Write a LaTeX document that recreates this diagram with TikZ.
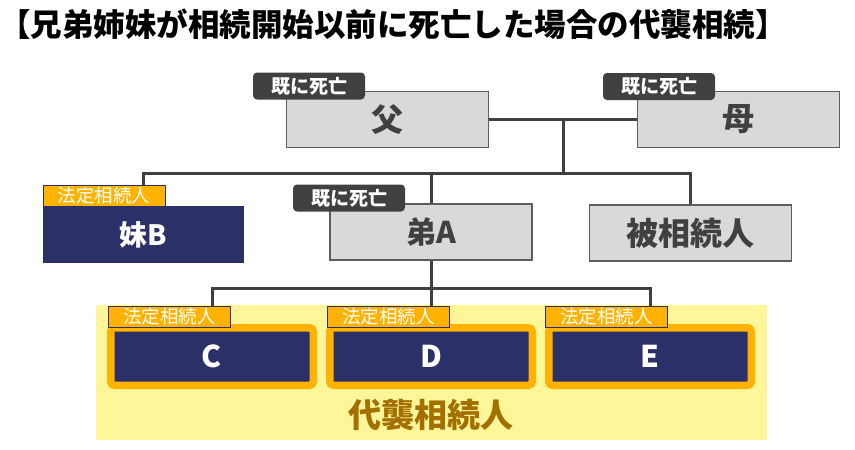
\documentclass[tikz,border=0pt]{standalone}
\usepackage{fontspec}
\setmainfont{Noto Sans CJK JP}
\usetikzlibrary{calc}
\definecolor{boxgray}{HTML}{D9D9D9}
\definecolor{linegray}{HTML}{404040}
\definecolor{navy}{HTML}{2B3168}
\definecolor{gold}{HTML}{FFB300}
\definecolor{paleyellow}{HTML}{FFF599}
\definecolor{darkgold}{HTML}{A36F00}
\tikzset{
	person/.style={draw=linegray!85, line width=1.5pt, fill=boxgray, minimum width=202pt, minimum height=56pt, inner sep=0pt, text=linegray, font=\fontsize{32}{36}\selectfont\bfseries},
	heir/.style={fill=navy, minimum width=201pt, minimum height=57pt, inner sep=0pt, text=white, font=\fontsize{28}{32}\selectfont\bfseries},
	substitute/.style={heir, draw=gold, line width=7.5pt, rounded corners=3.75pt, minimum width=202.5pt, minimum height=57.5pt, font=\fontsize{30}{34}\selectfont\bfseries},
	deadtag/.style={fill=linegray, rounded corners=4pt, minimum width=112pt, minimum height=27pt, inner sep=0pt, text=white, font=\fontsize{19}{21}\selectfont\bfseries},
	legaltag/.style={fill=gold, draw=navy, line width=1pt, minimum width=122pt, minimum height=21pt, inner sep=0pt, text=white, font=\fontsize{18.5}{20}\selectfont},
	link/.style={draw=linegray, line width=3pt}
}
\begin{document}
\begin{tikzpicture}[x=1pt,y=-1pt]
	\useasboundingbox (0,0) rectangle (855,450);
	\fill[paleyellow] (96,305) rectangle (767,440);
	
	\node[font=\fontsize{31.5}{34}\selectfont\bfseries] (title) at (393,24) {【兄弟姉妹が相続開始以前に死亡した場合の代襲相続】};
	
	\node[person] (father) at (387.5,119.5) {父};
	\node[person] (mother) at (738.5,119.5) {母};
	\node[heir] (sister) at (143.5,234.5) {妹B};
	\node[person, font=\fontsize{30}{34}\selectfont\bfseries] (brother) at (431,232) {弟A};
	\node[person] (deceased) at (690.5,233) {被相続人};
	
	\node[deadtag] (fathertag) at (309,86) {既に死亡};
	\node[deadtag] (mothertag) at (659,86.5) {既に死亡};
	\node[deadtag] (brothertag) at (349,198) {既に死亡};
	\node[legaltag] (sistertag) at (104,195.5) {法定相続人};
	
	\node[substitute] (c) at (212,356.5) {C};
	\node[substitute] (d) at (431,356.5) {D};
	\node[substitute] (e) at (650,356.5) {E};
	\node[legaltag] (ctag) at (169.5,316.5) {法定相続人};
	\node[legaltag] (dtag) at (388.5,316.5) {法定相続人};
	\node[legaltag] (etag) at (606.5,316.5) {法定相続人};
	
	\node[text=darkgold, font=\fontsize{33}{36}\selectfont\bfseries] (daishu) at (431,415) {代襲相続人};
	
	\coordinate (mid) at ($(father.east)!0.5!(mother.west)$);
	\coordinate (fork) at ($(mid)+(0,54)$);
	\coordinate (split) at ($(brother.south)+(0,28)$);
	
	\draw[link] (father) -- (mother);
	\draw[link] (mid) -- (fork);
	\draw[link] (sistertag.north -| sister) -- (sister |- fork) -- (deceased |- fork) -- (deceased);
	\draw[link] (brother |- fork) -- (brother);
	\draw[link] (brother) -- (split);
	\draw[link] (ctag.north -| c) -- (c |- split) -- (e |- split) -- (etag.north -| e);
	\draw[link] (d |- split) -- (dtag.north -| d);
\end{tikzpicture}
\end{document}
